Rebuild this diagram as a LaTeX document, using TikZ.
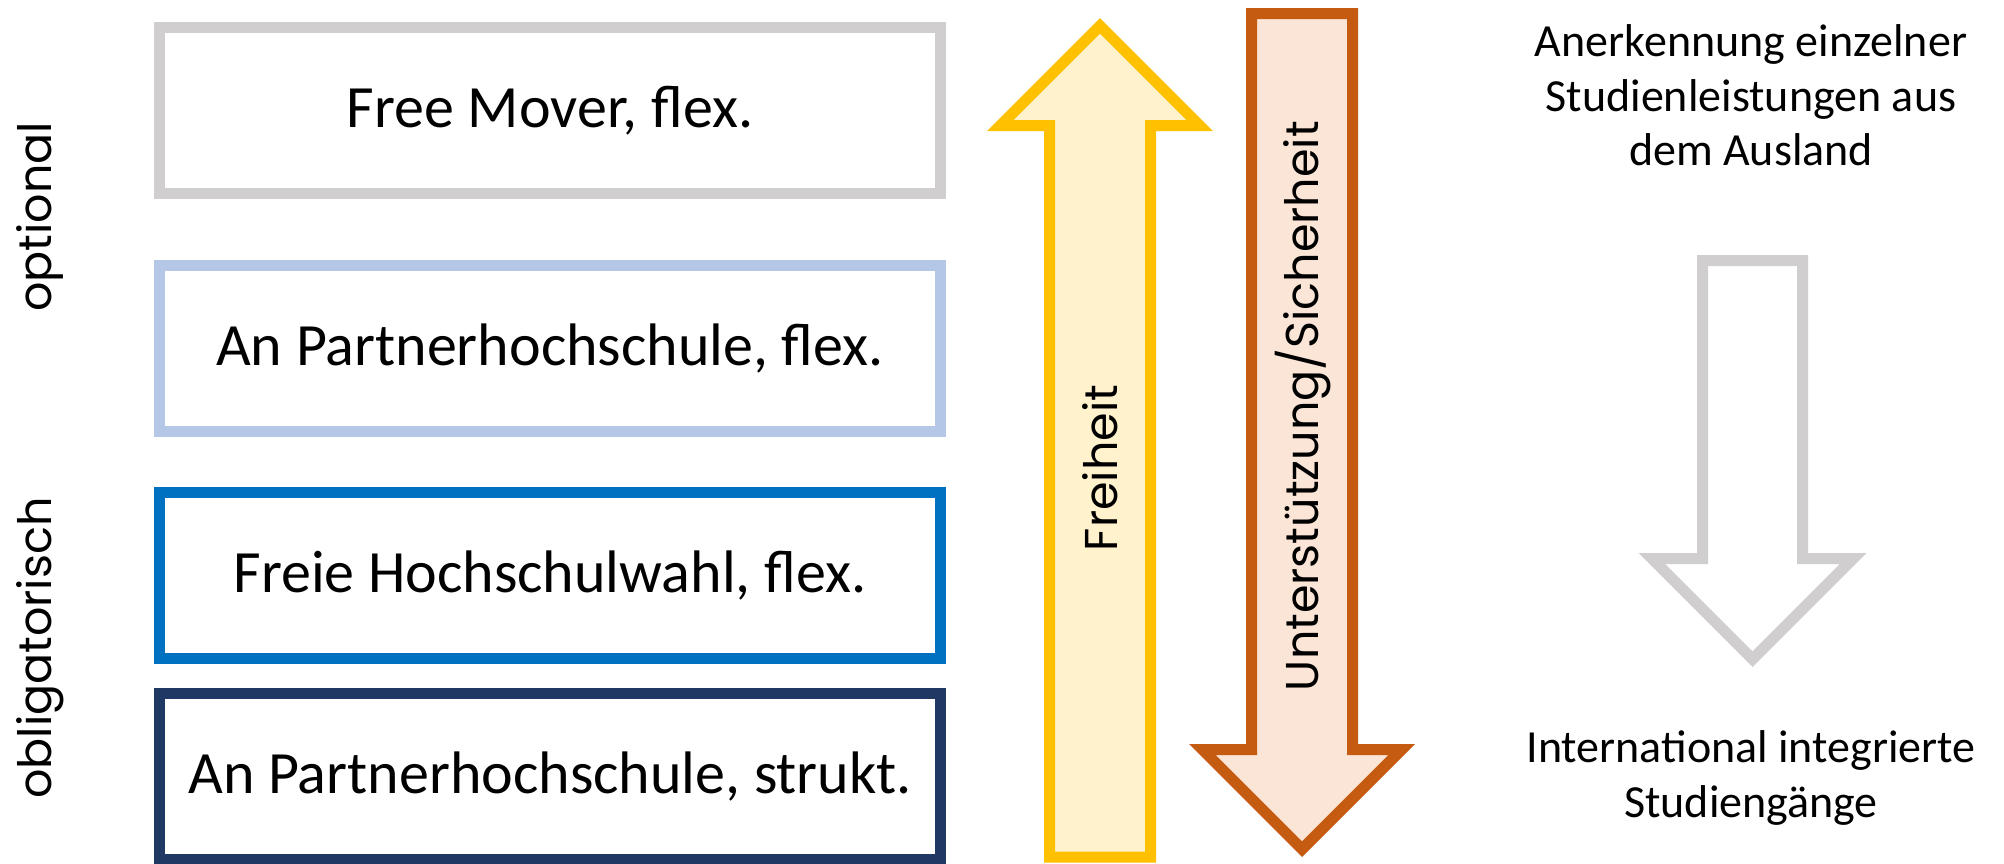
\documentclass[tikz,border=0pt]{standalone}
\usepackage{fontspec}
\setmainfont{Carlito}
\newfontfamily\geofont{Poppins}
\definecolor{boxgray}{HTML}{D0CECE}
\definecolor{boxlight}{HTML}{B4C7E7}
\definecolor{boxblue}{HTML}{0070C0}
\definecolor{boxnavy}{HTML}{203864}
\definecolor{arryel}{HTML}{FFC000}
\definecolor{arryelfill}{HTML}{FFF2CC}
\definecolor{arrorg}{HTML}{C55A11}
\definecolor{arrorgfill}{HTML}{FBE5D6}
\tikzset{
  box/.style={draw, line width=5.5pt, minimum width=390.5pt, minimum height=83pt,
    inner sep=0pt, fill=white, font=\fontsize{30}{36}\selectfont},
  sidelabel/.style={rotate=90, inner sep=0pt, font=\geofont\fontsize{23}{28}\selectfont},
  righttext/.style={align=center, inner sep=0pt, font=\fontsize{23}{27.3}\selectfont},
  bigarrow/.style={line width=5.5pt, line join=miter}
}
\begin{document}
\begin{tikzpicture}[x=0.5pt,y=-0.5pt]
\useasboundingbox[fill=white] (0,0) rectangle (2004,863);
% boxes
\node[box, draw=boxgray] (b1) at (550,110.5) {Free Mover, flex.};
\node[box, draw=boxlight] (b2) at (550,348) {An Partnerhochschule, flex.};
\node[box, draw=boxblue] (b3) at (550,575) {Freie Hochschulwahl, flex.};
\node[box, draw=boxnavy] (b4) at (550,776) {An Partnerhochschule, strukt.};
% side labels
\node[sidelabel] (opt) at (40,217) {optional};
\node[sidelabel] (obl) at (40,648) {obligatorisch};
% yellow up arrow
\draw[bigarrow, draw=arryel, fill=arryelfill]
  (1049.5,857) -- (1049.5,125.5) -- (1000.3,125.5) -- (1100,25.8)
  -- (1199.7,125.5) -- (1150.5,125.5) -- (1150.5,857) -- cycle;
% orange down arrow
\draw[bigarrow, draw=arrorg, fill=arrorgfill]
  (1251.5,13.5) -- (1251.5,749.5) -- (1202.3,749.5) -- (1302,849.2)
  -- (1401.7,749.5) -- (1352.5,749.5) -- (1352.5,13.5) -- cycle;
% gray down arrow
\draw[bigarrow, draw=boxgray, fill=white]
  (1702.5,260.5) -- (1702.5,558.5) -- (1651.8,558.5) -- (1752.5,659.2)
  -- (1853.2,558.5) -- (1802.5,558.5) -- (1802.5,260.5) -- cycle;
% arrow labels
\node[sidelabel] (frei) at (1100,468) {Freiheit};
\node[sidelabel] (unter) at (1303,406) {Unterstützung/Sicherheit};
% right texts
\node[righttext] (anerk) at (1751,95.5) {Anerkennung einzelner\\Studienleistungen aus\\dem Ausland};
\node[righttext] (intl) at (1751,778) {International integrierte\\Studiengänge};
\end{tikzpicture}
\end{document}
